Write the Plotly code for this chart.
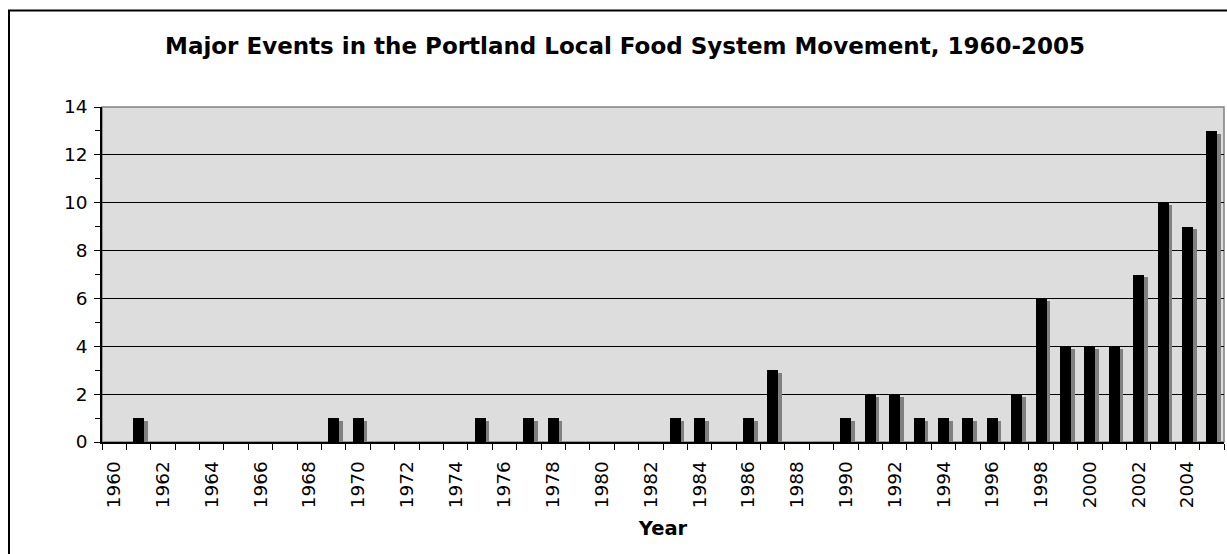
import plotly.graph_objects as go

years = list(range(1960, 2006))
events = [0, 1, 0, 0, 0, 0, 0, 0, 0, 1,
          1, 0, 0, 0, 0, 1, 0, 1, 1, 0,
          0, 0, 0, 1, 1, 0, 1, 3, 0, 0,
          1, 2, 2, 1, 1, 1, 1, 2, 6, 4,
          4, 4, 7, 10, 9, 13]
tick_years = list(range(1960, 2005, 2))
tick_labels = [str(y) for y in tick_years]
y_ticks = list(range(0, 15, 2))

W, H = 1227, 554
L, R, T, B = 102, 3, 107, 112
pw, ph = W - L - R, H - T - B

SHADOW_DROP = 0.11
shadow_vals = [max(v - SHADOW_DROP, 0) if v > 0 else 0 for v in events]

fig = go.Figure()
fig.add_trace(go.Bar(x=years, y=shadow_vals, width=0.45, offset=-0.075,
                     marker=dict(color="#808080", line=dict(width=0)),
                     hoverinfo="skip", showlegend=False))
fig.add_trace(go.Bar(x=years, y=events, width=0.45, offset=-0.225,
                     marker=dict(color="#000000", line=dict(width=0)),
                     showlegend=False, name="Events"))

font = "DejaVu Sans, Verdana, sans-serif"
TS = 18.5

fig.update_layout(
    width=W, height=H, autosize=False,
    margin=dict(l=L, r=R, t=T, b=B, pad=0),
    paper_bgcolor="white", plot_bgcolor="#DDDDDD",
    barmode="overlay", bargap=0,
    font=dict(family=font, size=TS, color="black"),
    title=dict(text="<b>Major Events in the Portland Local Food System Movement, 1960-2005</b>",
               x=625 / W, xref="container", xanchor="center",
               y=1 - 46 / H, yref="container", yanchor="middle",
               font=dict(family=font, size=23, color="black")),
    xaxis=dict(range=[1959.5, 2005.5], tickmode="array", tickvals=tick_years,
               ticktext=tick_labels, tickangle=-90,
               ticks="outside", ticklen=10, tickcolor="rgba(0,0,0,0)",
               minor=dict(tick0=1959.5, dtick=1, ticks="outside", ticklen=6,
                          tickcolor="black", tickwidth=1, showgrid=False),
               showline=True, linecolor="black", linewidth=1.5,
               showgrid=False, zeroline=False,
               tickfont=dict(family=font, size=TS, color="black"),
               title=dict(text="<b>Year</b>", font=dict(family=font, size=19.5, color="black"),
                          standoff=14)),
    yaxis=dict(range=[0, 14], tickvals=y_ticks,
               ticks="outside", ticklen=6, tickcolor="black", tickwidth=1,
               ticklabelstandoff=3,
               minor=dict(dtick=1, tick0=0, ticks="outside", ticklen=5,
                          tickcolor="black", tickwidth=1, showgrid=False),
               showline=True, linecolor="black", linewidth=1.5,
               showgrid=True, gridcolor="black", gridwidth=1,
               zeroline=False,
               tickfont=dict(family=font, size=TS, color="black")),
    shapes=[
        dict(type="rect", xref="paper", yref="paper", x0=0, x1=1, y0=0, y1=1,
             line=dict(color="#808080", width=1.5), fillcolor="rgba(0,0,0,0)", layer="below"),
        dict(type="rect", xref="paper", yref="paper",
             x0=(9 - L) / pw, x1=(1241 - L) / pw,
             y0=(H - T - 620) / ph, y1=(ph + T - 10.5) / ph,
             line=dict(color="black", width=2), fillcolor="rgba(0,0,0,0)"),
    ],
)

fig.write_html("out.html")
